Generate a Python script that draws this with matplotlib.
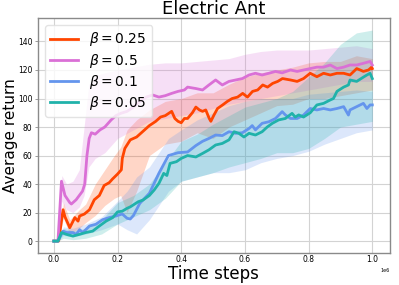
import matplotlib
matplotlib.use("Agg")
import matplotlib.pyplot as plt
import numpy as np

# ---------------- data (x in units of 1e6 time steps) ----------------
labels = [r"$\beta=0.25$", r"$\beta=0.5$", r"$\beta=0.1$", r"$\beta=0.05$"]
colors = ["#FF4500", "#DA70D6", "#6495ED", "#20B2AA"]

# beta = 0.25 (orange-red)
red_x = [0, 0.015, 0.029, 0.035, 0.045, 0.05, 0.066, 0.076, 0.081, 0.096, 0.112, 0.127,
         0.143, 0.158, 0.174, 0.184, 0.2, 0.212, 0.215, 0.223, 0.24, 0.26, 0.28, 0.3,
         0.32, 0.335, 0.35, 0.37, 0.38, 0.39, 0.4, 0.41, 0.42, 0.435, 0.446, 0.457,
         0.467, 0.477, 0.488, 0.493, 0.503, 0.514, 0.53, 0.545, 0.56, 0.577, 0.593,
         0.608, 0.624, 0.64, 0.656, 0.671, 0.687, 0.703, 0.718, 0.743, 0.764, 0.784,
         0.805, 0.826, 0.847, 0.868, 0.889, 0.91, 0.93, 0.951, 0.962, 0.972, 0.988,
         0.998, 1.0]
red_y = [0, 0, 22, 17, 12, 9.4, 16.5, 14, 17.6, 19, 22, 29,
         32, 39, 41, 43.5, 47, 50, 58, 65, 71, 73, 77, 81,
         84, 87, 88, 91, 86, 84, 83, 86, 86, 90, 94, 92,
         91, 92, 86, 84, 88.5, 93, 95.5, 98, 100, 101, 103.6,
         101, 105, 106, 109.5, 108, 110.6, 112, 114, 113, 112, 114,
         117.7, 115.3, 117.7, 116.5, 117.7, 117.7, 116.5, 121, 120, 119, 120,
         122, 121]

# beta = 0.5 (orchid)
mag_x = [0, 0.013, 0.024, 0.035, 0.05, 0.055, 0.07, 0.08, 0.09, 0.097, 0.104, 0.111,
         0.118, 0.13, 0.145, 0.16, 0.18, 0.195, 0.21, 0.23, 0.25, 0.27, 0.29, 0.31,
         0.33, 0.35, 0.37, 0.39, 0.41, 0.42, 0.446, 0.467, 0.487, 0.508, 0.529, 0.55,
         0.571, 0.592, 0.613, 0.633, 0.654, 0.675, 0.696, 0.717, 0.743, 0.764, 0.784,
         0.805, 0.826, 0.847, 0.868, 0.889, 0.91, 0.93, 0.951, 0.972, 0.993, 1.0]
mag_y = [0, 0, 42, 32, 27, 26, 29, 32, 35, 40, 60, 72,
         76, 75, 78, 80, 85, 88, 89.6, 91, 94, 98, 101, 102.5,
         101, 102, 103.6, 105, 106, 108, 107, 106, 109.5, 113, 109.5, 112,
         113, 114, 116.5, 117.7, 116.5, 117.7, 119, 118, 120, 119, 120,
         121, 122, 122, 123.5, 121, 122, 123.5, 123.5, 124.7, 126, 123.5]

# beta = 0.1 (cornflower blue)
blue_x = [0, 0.013, 0.029, 0.04, 0.06, 0.07, 0.081, 0.091, 0.112, 0.132, 0.153, 0.174,
          0.195, 0.2, 0.215, 0.23, 0.24, 0.25, 0.27, 0.3, 0.33, 0.36, 0.39, 0.42,
          0.446, 0.467, 0.487, 0.508, 0.529, 0.55, 0.571, 0.592, 0.613, 0.623, 0.633,
          0.654, 0.675, 0.696, 0.717, 0.727, 0.743, 0.764, 0.784, 0.805, 0.826, 0.847,
          0.868, 0.889, 0.91, 0.925, 0.93, 0.951, 0.972, 0.983, 0.993, 1.0]
blue_y = [0, 0, 7, 6, 6, 4.7, 8, 6, 10.6, 11.8, 15, 16.5,
          17.6, 18, 19, 16, 15.5, 18, 26.5, 33.5, 47.6, 60, 62, 62.5,
          67, 70, 72, 74.4, 74, 76.7, 75.6, 76, 79, 81, 78,
          82.6, 83.7, 86, 90.8, 88.5, 86, 86, 88.4, 93, 92, 93,
          92, 93, 94.3, 88.4, 92, 94.3, 96.6, 93, 95.5, 95.5]

# beta = 0.05 (light sea green)
teal_x = [0, 0.013, 0.024, 0.04, 0.06, 0.08, 0.1, 0.122, 0.143, 0.164, 0.185, 0.2,
          0.215, 0.23, 0.24, 0.265, 0.28, 0.3, 0.315, 0.33, 0.345, 0.355, 0.365, 0.385,
          0.4, 0.42, 0.446, 0.467, 0.487, 0.508, 0.529, 0.55, 0.566, 0.581, 0.597,
          0.613, 0.633, 0.654, 0.67, 0.686, 0.706, 0.727, 0.748, 0.758, 0.769, 0.784,
          0.805, 0.826, 0.847, 0.868, 0.878, 0.889, 0.91, 0.925, 0.93, 0.951, 0.972,
          0.983, 0.993, 1.0]
teal_y = [0, 0, 6, 4.7, 3.5, 4.7, 6, 7, 10.6, 14, 16.5, 20.5,
          21, 23, 24, 27.6, 28.8, 32, 35.8, 40.5, 47.5, 46, 54.5, 55.7,
          58, 60, 59, 61.5, 64, 67.4, 68.5, 71, 76.7, 75.6, 73,
          75.6, 74.4, 76.7, 80, 82.6, 85, 86, 89.6, 87, 88.5, 87,
          90, 95.5, 96.6, 99, 100, 105, 108, 109.5, 113, 112, 115,
          116.5, 117.7, 114]

# shaded bands (lower / upper edges)
red_bx = [0, 0.015, 0.03, 0.05, 0.08, 0.1, 0.13, 0.16, 0.19, 0.21, 0.23, 0.26, 0.3, 0.35,
          0.4, 0.45, 0.5, 0.55, 0.6, 0.65, 0.7, 0.75, 0.8, 0.85, 0.9, 0.95, 1.0]
red_lo = [0, 0, 16, 5, 9, 13, 18, 25, 30, 32, 20, 35, 60, 68,
          70, 76, 72, 80, 85, 90, 95, 96, 100, 100, 102, 104, 106]
red_hi = [0, 0, 27, 15, 22, 26, 40, 50, 60, 66, 78, 85, 92, 98,
          100, 104, 104, 110, 115, 118, 120, 122, 125, 126, 126, 130, 128]

mag_bx = [0, 0.013, 0.025, 0.04, 0.06, 0.08, 0.095, 0.11, 0.13, 0.16, 0.2, 0.25, 0.3, 0.35,
          0.4, 0.45, 0.5, 0.55, 0.6, 0.65, 0.7, 0.75, 0.8, 0.85, 0.9, 0.95, 1.0]
mag_lo = [0, 0, 28, 22, 20, 24, 32, 52, 58, 62, 72, 78, 84, 86,
          88, 90, 93, 96, 98, 100, 102, 104, 106, 108, 110, 112, 112]
mag_hi = [0, 0, 46, 40, 42, 50, 80, 110, 116, 118, 120, 122, 124, 125,
          125, 126, 127, 128, 131, 133, 134, 134, 134, 135, 136, 137, 135]

blue_bx = [0, 0.013, 0.03, 0.06, 0.1, 0.15, 0.2, 0.23, 0.26, 0.3, 0.33, 0.36, 0.4, 0.45,
           0.5, 0.55, 0.6, 0.65, 0.7, 0.75, 0.8, 0.85, 0.9, 0.95, 1.0]
blue_lo = [0, 0, 4, 3, 5, 8, 12, 8, 5, 15, 25, 35, 42, 45,
           48, 48, 50, 55, 58, 60, 63, 68, 72, 76, 78]
blue_hi = [0, 0, 10, 9, 12, 17, 28, 35, 45, 52, 62, 72, 78, 85,
           90, 95, 98, 100, 100, 100, 103, 104, 105, 106, 105]

teal_bx = [0, 0.013, 0.03, 0.06, 0.1, 0.15, 0.2, 0.25, 0.3, 0.35, 0.4, 0.45, 0.5, 0.55,
           0.6, 0.65, 0.7, 0.75, 0.8, 0.85, 0.9, 0.95, 1.0]
teal_lo = [0, 0, 2, 1, 2, 5, 12, 17, 22, 30, 42, 45, 48, 52,
           55, 58, 62, 62, 65, 72, 80, 82, 84]
teal_hi = [0, 0, 9, 7, 9, 15, 27, 32, 40, 55, 70, 75, 82, 88,
           94, 97, 100, 105, 115, 125, 138, 146, 148]

series = [
    (red_x, red_y, red_bx, red_lo, red_hi),
    (mag_x, mag_y, mag_bx, mag_lo, mag_hi),
    (blue_x, blue_y, blue_bx, blue_lo, blue_hi),
    (teal_x, teal_y, teal_bx, teal_lo, teal_hi),
]

# ---------------- plot ----------------
fig = plt.figure(figsize=(3.99, 2.85), dpi=100)
ax = fig.add_axes([0.095, 0.112, 0.882, 0.825])

scale = 1e6
for (x, y, bx, lo, hi), c in zip(series, colors):
    ax.fill_between(np.array(bx) * scale, lo, hi, color=c, alpha=0.22, linewidth=0)
for (x, y, bx, lo, hi), c, lab in zip(series, colors, labels):
    ax.plot(np.array(x) * scale, y, color=c, lw=2.0, label=lab)

ax.set_xlim(-0.05e6, 1.055e6)
ax.set_ylim(-8.4, 156.5)
ax.set_yticks([0, 20, 40, 60, 80, 100, 120, 140])
ax.set_xticks([0, 0.2e6, 0.4e6, 0.6e6, 0.8e6, 1.0e6])
ax.grid(True, color="#d3d3d3", linewidth=0.8)
ax.set_axisbelow(True)
ax.tick_params(axis="y", length=2, width=0.6, color="#8a8a8a", labelsize=5.5, pad=2)
ax.tick_params(axis="x", length=0, labelsize=5.5, pad=1.5)
ax.xaxis.get_offset_text().set_fontsize(3.5)
for s in ax.spines.values():
    s.set_color("#8a8a8a")
    s.set_linewidth(1.0)

ax.set_title("Electric Ant", fontsize=13, pad=3)
ax.set_xlabel("Time steps", fontsize=12)
ax.xaxis.set_label_coords(0.5, -0.05)
ax.set_ylabel("Average return", fontsize=11)
ax.yaxis.set_label_coords(-0.056, 0.5)

leg = ax.legend(loc="upper left", fontsize=10, handlelength=2.0, borderaxespad=0.5,
                labelspacing=0.22, framealpha=0.8)
leg.get_frame().set_edgecolor("#dddddd")

fig.savefig("out.png", dpi=100)
